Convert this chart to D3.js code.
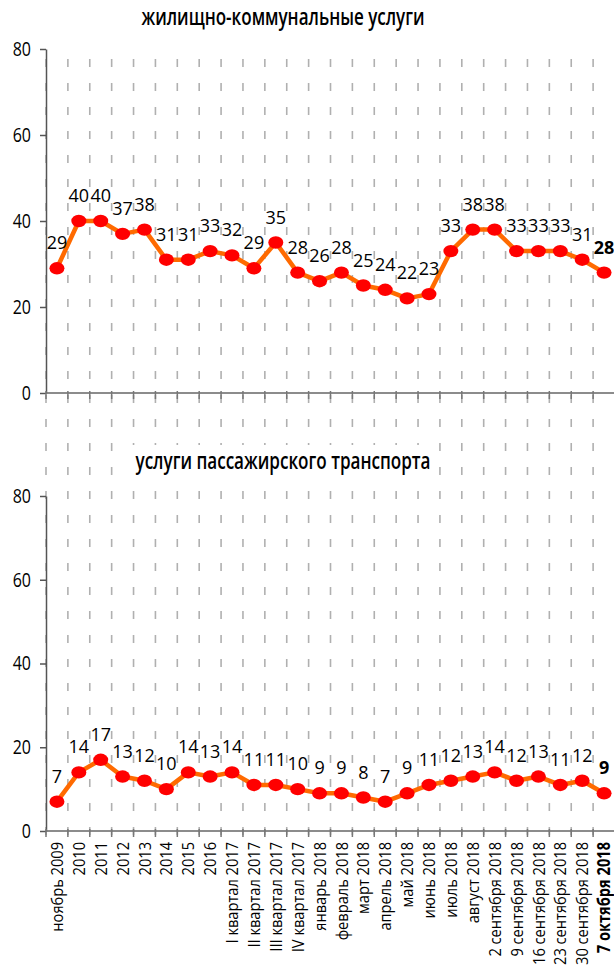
<!DOCTYPE html>
<html>
<head>
<meta charset="utf-8">
<script src="https://cdn.jsdelivr.net/npm/d3@7"></script>
<style>
  html, body { margin: 0; padding: 0; background: #fff; }
  svg { display: block; }
</style>
</head>
<body>
<svg id="chart" width="614" height="967"></svg>
<script>
// Periods shown on the shared horizontal axis
const categories = [
  "ноябрь 2009", "2010", "2011", "2012", "2013", "2014", "2015", "2016",
  "I квартал 2017", "II квартал 2017", "III квартал 2017", "IV квартал 2017",
  "январь 2018", "февраль 2018", "март 2018", "апрель 2018", "май 2018",
  "июнь 2018", "июль 2018", "август 2018", "2 сентября 2018", "9 сентября 2018",
  "16 сентября 2018", "23 сентября 2018", "30 сентября 2018", "7 октября 2018"
];

// Housing and utilities
const housingValues = [29, 40, 40, 37, 38, 31, 31, 33, 32, 29, 35, 28, 26, 28, 25, 24, 22, 23, 33, 38, 38, 33, 33, 33, 31, 28];

// Passenger transport
const transportValues = [7, 14, 17, 13, 12, 10, 14, 13, 14, 11, 11, 10, 9, 9, 8, 7, 9, 11, 12, 13, 14, 12, 13, 11, 12, 9];

const yTicks = [0, 20, 40, 60, 80];
const titles = ["жилищно-коммунальные услуги", "услуги пассажирского транспорта"];

const svg = d3.select("#chart");
const sans = "'Open Sans', 'Liberation Sans', sans-serif";

// Squeeze text horizontally to imitate a narrow typeface
function condense(sel, factor) {
  sel.each(function () {
    const w = this.getComputedTextLength();
    d3.select(this).attr("textLength", w * factor).attr("lengthAdjust", "spacingAndGlyphs");
  });
}

const left = 46, right = 615;
const x = d3.scaleBand().domain(categories).range([left, right]).paddingInner(0).paddingOuter(0);
const step = x.step();

const panels = [
  { title: titles[0], values: housingValues, top: 49, bottom: 393, titleY: 25, titleW: 283 },
  { title: titles[1], values: transportValues, top: 496, bottom: 831, titleY: 469, titleW: 295 }
];

// Dashed vertical grid at category boundaries, running through both panels
const boundaries = d3.range(categories.length + 1).map(i => left + i * step);
svg.append("g").selectAll("line").data(boundaries).join("line")
  .attr("x1", d => d).attr("x2", d => d)
  .attr("y1", 59).attr("y2", 838)
  .attr("stroke", "#b0b0b0").attr("stroke-width", 1.6)
  .attr("stroke-dasharray", "8 16");

panels.forEach(p => {
  const y = d3.scaleLinear().domain([0, 80]).range([p.bottom, p.top]);
  const g = svg.append("g");

  // Title with a white backing so the grid breaks around it
  const t = g.append("text")
    .attr("x", 283).attr("y", p.titleY)
    .attr("text-anchor", "middle")
    .attr("font-family", sans).attr("font-weight", 600)
    .attr("font-size", 22.5).attr("fill", "#000")
    .attr("textLength", p.titleW).attr("lengthAdjust", "spacingAndGlyphs")
    .text(p.title);
  const bb = t.node().getBBox();
  g.insert("rect", "text")
    .attr("x", 283 - p.titleW / 2 - 4).attr("y", bb.y)
    .attr("width", p.titleW + 8).attr("height", bb.height)
    .attr("fill", "#fff");

  // Y axis
  const yAxis = d3.axisLeft(y).tickValues(yTicks).tickSizeInner(6).tickSizeOuter(0).tickPadding(9);
  const ya = g.append("g").attr("transform", `translate(${left},0)`).call(yAxis);
  ya.select(".domain").attr("stroke", "#555").attr("stroke-width", 1.5);
  ya.selectAll(".tick line").attr("stroke", "#555").attr("stroke-width", 1.5);
  ya.selectAll(".tick text").attr("font-family", sans).attr("font-size", 20).attr("fill", "#000")
    .call(condense, 0.8);

  // X axis baseline with boundary ticks
  g.append("line")
    .attr("x1", left).attr("x2", right)
    .attr("y1", y(0)).attr("y2", y(0))
    .attr("stroke", "#666").attr("stroke-width", 1.5);
  g.append("g").selectAll("line").data(boundaries).join("line")
    .attr("x1", d => d).attr("x2", d => d)
    .attr("y1", y(0) - 2).attr("y2", y(0) + 6)
    .attr("stroke", "#777").attr("stroke-width", 1.5);

  const cx = d => x(d) + step / 2;
  const pts = categories.map((c, i) => ({ c, v: p.values[i], last: i === categories.length - 1 }));

  // Series line
  g.append("path").datum(pts)
    .attr("fill", "none")
    .attr("stroke", "#ff6a00").attr("stroke-width", 4.5)
    .attr("stroke-linejoin", "round")
    .attr("d", d3.line().x(d => cx(d.c)).y(d => y(d.v)));

  // Markers
  g.append("g").selectAll("ellipse").data(pts).join("ellipse")
    .attr("cx", d => cx(d.c)).attr("cy", d => y(d.v))
    .attr("rx", 7.5).attr("ry", 6.2)
    .attr("fill", "#ff0000");

  // Value labels
  g.append("g").selectAll("text").data(pts).join("text")
    .attr("x", d => cx(d.c)).attr("y", d => y(d.v) - 19)
    .attr("text-anchor", "middle")
    .attr("font-family", sans).attr("font-size", 18)
    .attr("font-weight", d => d.last ? "bold" : "normal")
    .attr("fill", "#000")
    .text(d => d.v);
});

// Category labels under the lower panel
const xAxis = d3.axisBottom(x).tickSize(0).tickPadding(0);
const xa = svg.append("g").attr("transform", `translate(0,831)`).call(xAxis);
xa.select(".domain").remove();
xa.selectAll(".tick text")
  .attr("font-family", sans).attr("font-size", 17).attr("fill", "#000")
  .attr("text-anchor", "end")
  .attr("transform", "rotate(-90)")
  .attr("x", -11).attr("y", 0).attr("dy", "0.36em")
  .attr("font-weight", d => d === categories[categories.length - 1] ? "bold" : "normal")
  .call(condense, 0.86);
</script>
</body>
</html>
